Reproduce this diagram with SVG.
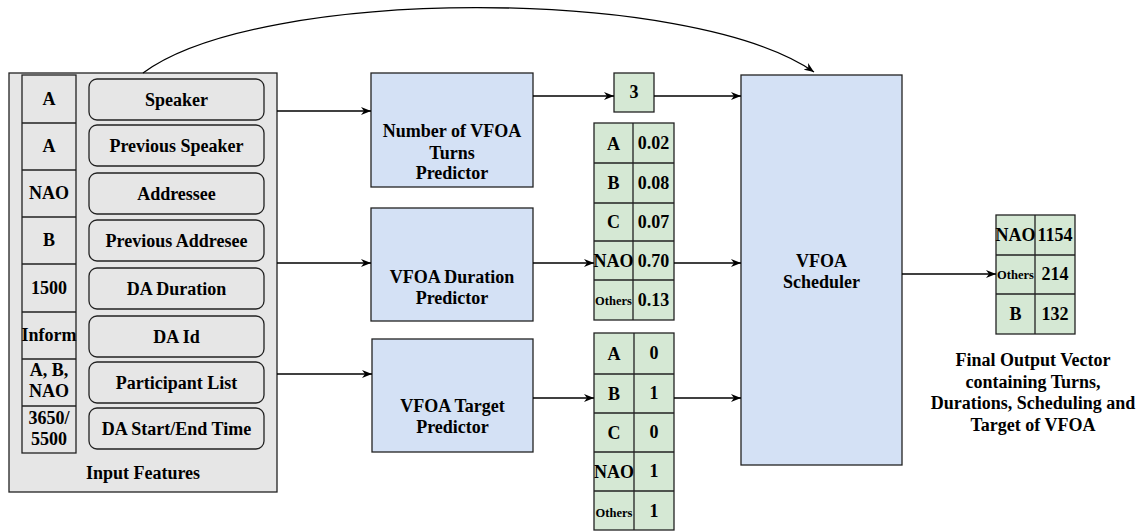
<svg xmlns="http://www.w3.org/2000/svg" width="1146" height="531" viewBox="0 0 1146 531" font-family="Liberation Serif, Times New Roman, serif">
<style>
text{font-weight:bold;font-size:18px;fill:#000;text-anchor:middle}
.sm{font-size:12.5px}
.gray{fill:#E6E6E6;stroke:#222;stroke-width:1.3}
.blue{fill:#D4E1F5;stroke:#222;stroke-width:1.3}
.green{fill:#D5E8D4;stroke:#222;stroke-width:1.3}
.ln{fill:none;stroke:#222;stroke-width:1.3}
.c{fill:none;stroke:#000;stroke-width:1.3;marker-end:url(#arr)}
</style>
<defs>
<marker id="arr" viewBox="0 0 10 8" refX="10" refY="4" markerWidth="10" markerHeight="8" markerUnits="userSpaceOnUse" orient="auto">
<path d="M0,0 L10,4 L0,8 L3,4 z" fill="#000"/>
</marker>
</defs>
<rect width="1146" height="531" fill="#fff"/>

<g id="input-features">
<rect class="gray" x="9" y="73" width="268" height="419"/>
<rect class="gray" x="22" y="75" width="54" height="378"/>
<path class="ln" d="M22,123H76M22,170H76M22,217H76M22,264H76M22,312H76M22,359H76M22,406H76"/>
<text x="49" y="105">A</text>
<text x="49" y="152">A</text>
<text x="49" y="199">NAO</text>
<text x="49" y="246">B</text>
<text x="49" y="294">1500</text>
<text x="49" y="341">Inform</text>
<text x="49" y="376">A, B,</text>
<text x="49" y="397">NAO</text>
<text x="49" y="424">3650/</text>
<text x="49" y="445">5500</text>
<rect class="gray" x="89" y="79" width="175" height="41" rx="8"/>
<rect class="gray" x="89" y="125" width="175" height="41" rx="8"/>
<rect class="gray" x="89" y="173" width="175" height="41" rx="8"/>
<rect class="gray" x="89" y="220" width="175" height="41" rx="8"/>
<rect class="gray" x="89" y="268" width="175" height="41" rx="8"/>
<rect class="gray" x="89" y="316" width="175" height="41" rx="8"/>
<rect class="gray" x="89" y="362" width="175" height="41" rx="8"/>
<rect class="gray" x="89" y="408" width="175" height="41" rx="8"/>
<text x="176.5" y="106">Speaker</text>
<text x="176.5" y="152">Previous Speaker</text>
<text x="176.5" y="200">Addressee</text>
<text x="176.5" y="247">Previous Addresee</text>
<text x="176.5" y="295">DA Duration</text>
<text x="176.5" y="343">DA Id</text>
<text x="176.5" y="389">Participant List</text>
<text x="176.5" y="435">DA Start/End Time</text>
<text x="143" y="479">Input Features</text>
</g>

<g id="turns-predictor">
<rect class="blue" x="371" y="73" width="162" height="114"/>
<text x="452" y="137">Number of VFOA</text>
<text x="452" y="159">Turns</text>
<text x="452" y="179">Predictor</text>
</g>

<g id="duration-predictor">
<rect class="blue" x="371" y="208" width="162" height="113"/>
<text x="452" y="283">VFOA Duration</text>
<text x="452" y="304">Predictor</text>
</g>

<g id="target-predictor">
<rect class="blue" x="372" y="339" width="161" height="113"/>
<text x="452.5" y="412">VFOA Target</text>
<text x="452.5" y="433">Predictor</text>
</g>

<g id="turns-output">
<rect class="green" x="614" y="73" width="40" height="39"/>
<text x="634" y="98">3</text>
</g>

<g id="duration-table">
<rect class="green" x="594" y="123" width="80" height="197"/>
<path class="ln" d="M633,123V320M594,163H674M594,203H674M594,241H674M594,280H674"/>
<text x="613.5" y="150">A</text><text x="653.5" y="149">0.02</text>
<text x="613.5" y="189">B</text><text x="653.5" y="189">0.08</text>
<text x="613.5" y="228">C</text><text x="653.5" y="228">0.07</text>
<text x="613.5" y="267">NAO</text><text x="653.5" y="267">0.70</text>
<text class="sm" x="613.5" y="305">Others</text><text x="653.5" y="306">0.13</text>
</g>

<g id="target-table">
<rect class="green" x="594" y="333" width="80" height="197"/>
<path class="ln" d="M634,333V530M594,374H674M594,413H674M594,452H674M594,491H674"/>
<text x="614" y="360">A</text><text x="654" y="359">0</text>
<text x="614" y="400">B</text><text x="654" y="399">1</text>
<text x="614" y="439">C</text><text x="654" y="438">0</text>
<text x="614" y="478">NAO</text><text x="654" y="477">1</text>
<text class="sm" x="614" y="517">Others</text><text x="654" y="517">1</text>
</g>

<g id="scheduler">
<rect class="blue" x="741" y="75" width="161" height="390"/>
<text x="821.5" y="267">VFOA</text>
<text x="821.5" y="288">Scheduler</text>
</g>

<g id="output-vector">
<rect class="green" x="996" y="215" width="79" height="119"/>
<path class="ln" d="M1035,215V334M996,255H1075M996,294H1075"/>
<text x="1015.5" y="241">NAO</text><text x="1055" y="241">1154</text>
<text class="sm" x="1015.5" y="279">Others</text><text x="1055" y="280">214</text>
<text x="1015.5" y="320">B</text><text x="1055" y="320">132</text>
<text x="1033" y="366">Final Output Vector</text>
<text x="1033" y="388">containing Turns,</text>
<text x="1033" y="409">Durations, Scheduling and</text>
<text x="1033" y="431">Target of VFOA</text>
</g>

<g id="connectors">
<path class="c" d="M143,73 C260,-14 690,-14 814,72"/>
<path class="c" d="M277,111H371"/>
<path class="c" d="M533,96H614"/>
<path class="c" d="M654,96H741"/>
<path class="c" d="M277,263H371"/>
<path class="c" d="M533,263H594"/>
<path class="c" d="M674,263H741"/>
<path class="c" d="M277,374H372"/>
<path class="c" d="M533,398H594"/>
<path class="c" d="M674,398H741"/>
<path class="c" d="M902,274H996"/>
</g>
</svg>
